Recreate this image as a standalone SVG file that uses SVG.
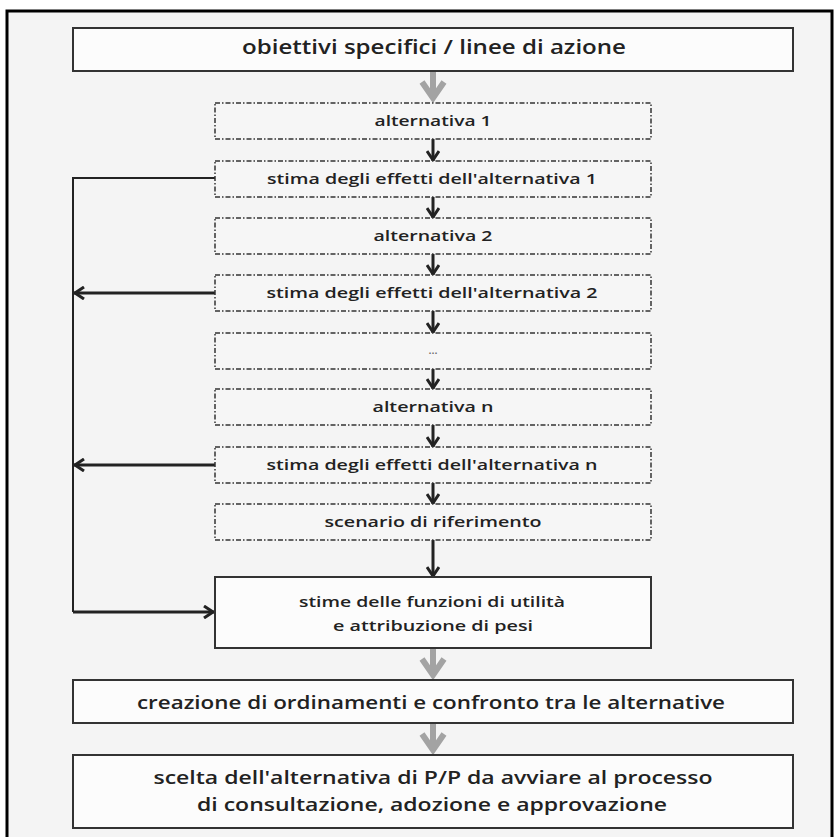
<svg xmlns="http://www.w3.org/2000/svg" width="835" height="837" viewBox="0 0 835 837">
<defs>
<style>
.frame{fill:#f4f4f4;stroke:#000;stroke-width:3}
.box{fill:#fcfcfc;stroke:#333;stroke-width:2}
.dbox{fill:#f6f6f6;stroke:#333;stroke-width:1.5;stroke-dasharray:5 2 1.5 2}
text{font-family:"Open Sans","Liberation Sans",sans-serif;font-weight:600;fill:#222;text-anchor:middle}
.t1{font-size:20px}
.t2{font-size:15px}
.t3{font-size:18px}
.blk{fill:none;stroke:#222;stroke-width:3}
.thin{fill:none;stroke:#222;stroke-width:2}
.gry{fill:none;stroke:#a3a3a3;stroke-width:6}
</style>
<marker id="ah" viewBox="0 0 12 14" refX="11" refY="7" markerWidth="12" markerHeight="14" markerUnits="userSpaceOnUse" orient="auto">
<path d="M1,1 L10,7 L1,13" fill="none" stroke="#222" stroke-width="3"/>
</marker>
</defs>
<rect x="0" y="0" width="835" height="837" fill="#fff"/>
<rect class="frame" x="7" y="11" width="825" height="840"/>

<g id="connectors">
<!-- gray arrows -->
<path class="gry" d="M433,71 V98 M422,82 L433,98 L444,82"/>
<path class="gry" d="M433,648 V675 M422,659 L433,675 L444,659"/>
<path class="gry" d="M433,723 V750 M422,734 L433,750 L444,734"/>
<!-- black vertical arrows -->
<path class="blk" d="M433,139 V161" marker-end="url(#ah)"/>
<path class="blk" d="M433,197 V218" marker-end="url(#ah)"/>
<path class="blk" d="M433,254 V275" marker-end="url(#ah)"/>
<path class="blk" d="M433,311 V333" marker-end="url(#ah)"/>
<path class="blk" d="M433,369 V389" marker-end="url(#ah)"/>
<path class="blk" d="M433,425 V447" marker-end="url(#ah)"/>
<path class="blk" d="M433,483 V504" marker-end="url(#ah)"/>
<path class="blk" d="M433,540 V577" marker-end="url(#ah)"/>
<!-- left feedback -->
<path class="thin" d="M215,178 H73 V612"/>
<path class="blk" d="M215,293 H74" marker-end="url(#ah)"/>
<path class="blk" d="M215,465 H74" marker-end="url(#ah)"/>
<path class="blk" d="M73,612 H214" marker-end="url(#ah)"/>
</g>

<g id="n-obiettivi">
<rect class="box" x="73" y="28" width="720" height="43"/>
<text class="t1" x="434" y="54" textLength="384" lengthAdjust="spacingAndGlyphs">obiettivi specifici / linee di azione</text>
</g>
<g id="n-alt1">
<rect class="dbox" x="215" y="103" width="436" height="36"/>
<text class="t2" x="433" y="126" textLength="117" lengthAdjust="spacingAndGlyphs">alternativa 1</text>
</g>
<g id="n-stima1">
<rect class="dbox" x="215" y="161" width="436" height="36"/>
<text class="t2" x="432" y="184" textLength="330" lengthAdjust="spacingAndGlyphs">stima degli effetti dell'alternativa 1</text>
</g>
<g id="n-alt2">
<rect class="dbox" x="215" y="218" width="436" height="36"/>
<text class="t2" x="433" y="241" textLength="119" lengthAdjust="spacingAndGlyphs">alternativa 2</text>
</g>
<g id="n-stima2">
<rect class="dbox" x="215" y="275" width="436" height="36"/>
<text class="t2" x="432" y="298" textLength="331" lengthAdjust="spacingAndGlyphs">stima degli effetti dell'alternativa 2</text>
</g>
<g id="n-dots">
<rect class="dbox" x="215" y="333" width="436" height="36"/>
<text x="433" y="354" style="font-size:11px;fill:#666">...</text>
</g>
<g id="n-altn">
<rect class="dbox" x="215" y="389" width="436" height="36"/>
<text class="t2" x="433" y="412" textLength="121" lengthAdjust="spacingAndGlyphs">alternativa n</text>
</g>
<g id="n-stiman">
<rect class="dbox" x="215" y="447" width="436" height="36"/>
<text class="t2" x="432" y="470" textLength="331" lengthAdjust="spacingAndGlyphs">stima degli effetti dell'alternativa n</text>
</g>
<g id="n-scenario">
<rect class="dbox" x="215" y="504" width="436" height="36"/>
<text class="t2" x="433" y="527" textLength="217" lengthAdjust="spacingAndGlyphs">scenario di riferimento</text>
</g>
<g id="n-stime">
<rect class="box" x="215" y="577" width="436" height="71"/>
<text class="t2" x="432" y="607" textLength="266" lengthAdjust="spacingAndGlyphs">stime delle funzioni di utilità</text>
<text class="t2" x="433" y="631" textLength="200" lengthAdjust="spacingAndGlyphs">e attribuzione di pesi</text>
</g>
<g id="n-creazione">
<rect class="box" x="73" y="680" width="720" height="43"/>
<text class="t3" x="431" y="709" textLength="588" lengthAdjust="spacingAndGlyphs">creazione di ordinamenti e confronto tra le alternative</text>
</g>
<g id="n-scelta">
<rect class="box" x="73" y="755" width="720" height="73"/>
<text class="t3" x="433" y="784" textLength="559" lengthAdjust="spacingAndGlyphs">scelta dell'alternativa di P/P da avviare al processo</text>
<text class="t3" x="432" y="811" textLength="470" lengthAdjust="spacingAndGlyphs">di consultazione, adozione e approvazione</text>
</g>
</svg>
